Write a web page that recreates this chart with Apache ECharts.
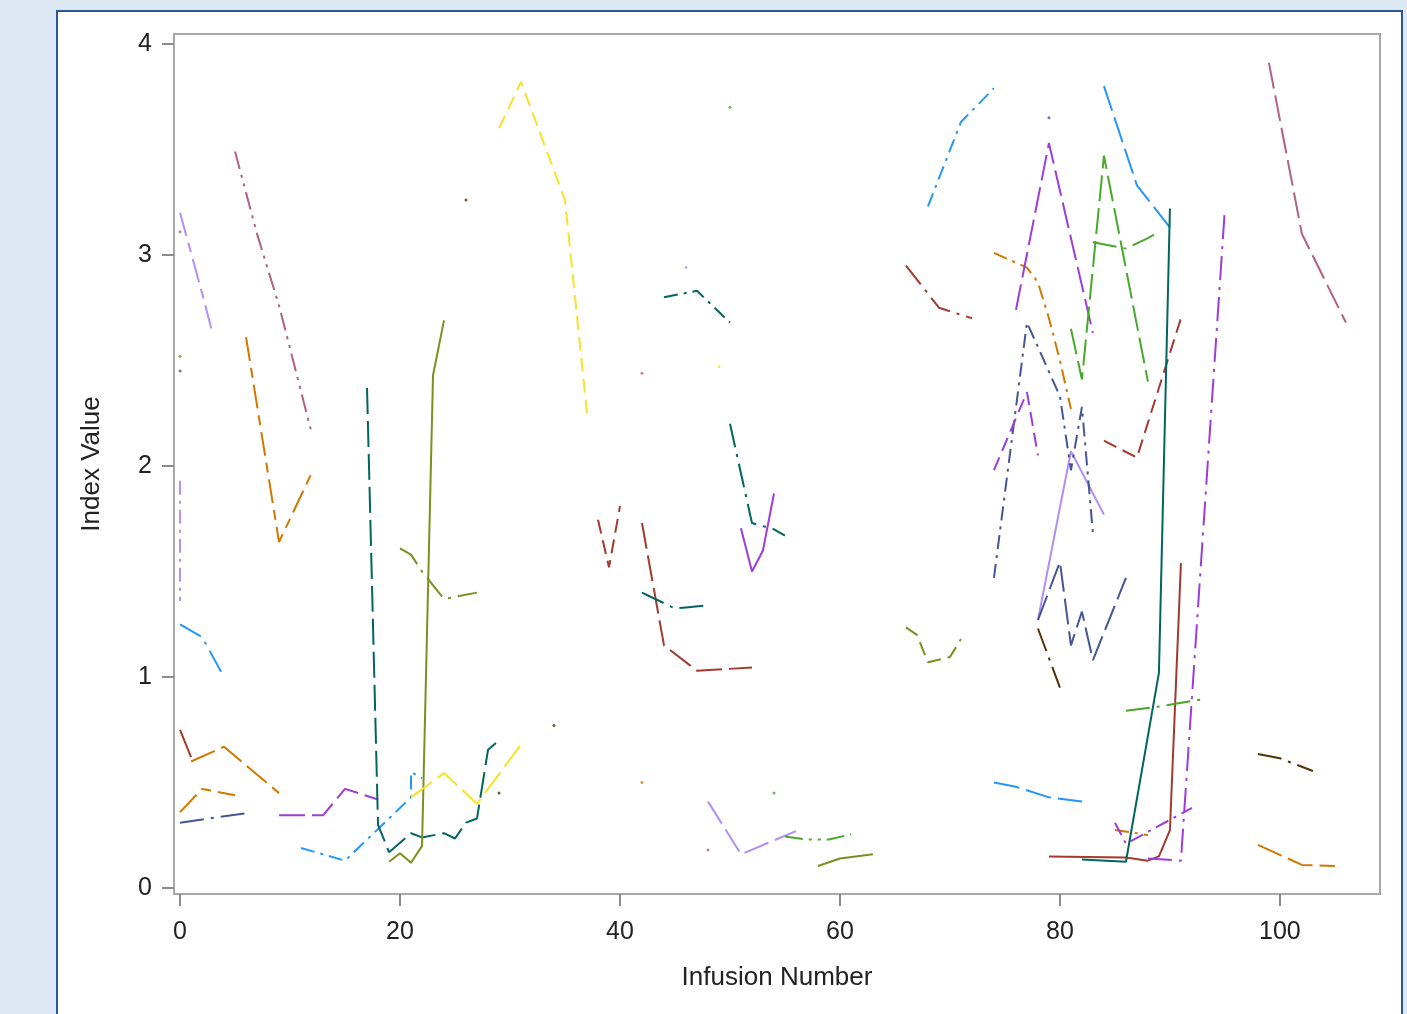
<!DOCTYPE html>
<html>
<head>
<meta charset="utf-8">
<title>Index Value by Infusion Number</title>
<script src="https://cdn.jsdelivr.net/npm/echarts@6/dist/echarts.min.js"></script>
<style>
  html, body { margin: 0; padding: 0; background: #dde7f3; }
  #chart { width: 1407px; height: 1014px; }
</style>
</head>
<body>
<div id="chart"></div>
<script>
// tick labels
const xTicks = [0, 20, 40, 60, 80, 100];
const yTicks = [0, 1, 2, 3, 4];

// subject profiles: [infusion number, index value]
const lav1 = [[0, 3.20], [1, 3.01], [2, 2.82], [3, 2.62]];
const lav2 = [[0, 1.93], [0, 1.36]];
const lav3 = [[48, 0.41], [51, 0.16], [56, 0.27]];
const lav4 = [[78, 1.27], [81, 2.07], [84, 1.77]];
const sky1 = [[0, 1.25], [2, 1.19], [4, 1.00]];
const sky2 = [[11, 0.19], [15, 0.13], [21, 0.43], [21, 0.55], [22, 0.52]];
const sky3 = [[68, 3.23], [71, 3.63], [74, 3.79]];
const sky4 = [[74, 0.50], [76, 0.48], [79, 0.43], [82, 0.41]];
const sky5 = [[84, 3.80], [87, 3.33], [90, 3.13]];
const red1 = [[0, 0.75], [1, 0.62]];
const red2 = [[38, 1.745], [39, 1.52], [40, 1.81]];
const red3 = [[42, 1.73], [44, 1.15], [47, 1.03], [52, 1.045]];
const red4 = [[66, 2.95], [69, 2.75], [72, 2.70]];
const red5 = [[84, 2.12], [87, 2.04], [91, 2.70]];
const red6 = [[79, 0.15], [86, 0.145], [88, 0.13], [89, 0.15], [90, 0.275], [91, 1.54]];
const ora1 = [[1, 0.60], [4, 0.67], [9, 0.45]];
const ora2 = [[0, 0.36], [2, 0.47], [5, 0.44]];
const ora3 = [[6, 2.61], [9, 1.64], [12, 1.97]];
const ora4 = [[74, 3.01], [77, 2.94], [78, 2.87], [79, 2.70], [80, 2.50], [81, 2.27]];
const ora5 = [[85, 0.275], [87, 0.26], [88, 0.25]];
const ora6 = [[98, 0.205], [102, 0.11], [105, 0.105]];
const blu1 = [[0, 0.31], [6, 0.355]];
const blu2 = [[74, 1.47], [77, 2.68], [80, 2.33], [81, 1.98], [82, 2.28], [83, 1.68]];
const blu3 = [[78, 1.27], [80, 1.545], [81, 1.15], [82, 1.31], [83, 1.08], [86, 1.47]];
const pur1 = [[9, 0.345], [13, 0.345], [15, 0.47], [18, 0.42]];
const pur2 = [[51, 1.705], [52, 1.50], [53, 1.60], [54, 1.87]];
const pur3 = [[76, 2.74], [79, 3.53], [83, 2.63]];
const pur4 = [[74, 1.98], [77, 2.35], [78, 2.05]];
const pur5 = [[85, 0.31], [86, 0.21], [92, 0.38]];
const pur6 = [[88, 0.14], [91, 0.13], [95, 3.22]];
const mau1 = [[5, 3.49], [7, 3.10], [9, 2.76], [12, 2.15]];
const mau2 = [[99, 3.91], [102, 3.10], [106, 2.68]];
const tea1 = [[17, 2.37], [18, 0.30], [19, 0.17], [21, 0.26], [22, 0.24], [24, 0.26], [25, 0.235],
              [26, 0.31], [27, 0.33], [28, 0.655], [29, 0.70]];
const tea2 = [[42, 1.40], [45, 1.325], [46, 1.33], [48, 1.34]];
const tea3 = [[44, 2.80], [47, 2.83], [50, 2.68]];
const tea4 = [[50, 2.20], [52, 1.73], [54, 1.70], [55, 1.67]];
const tea5 = [[82, 0.135], [86, 0.125], [89, 1.02], [90, 3.22]];
const oli1 = [[19, 0.125], [20, 0.165], [21, 0.12], [22, 0.20], [23, 2.43], [24, 2.69]];
const oli2 = [[20, 1.61], [21, 1.58], [22, 1.50], [24, 1.37], [27, 1.40]];
const oli3 = [[58, 0.105], [60, 0.14], [63, 0.16]];
const oli4 = [[66, 1.235], [67, 1.20], [68, 1.07], [70, 1.095], [71, 1.18]];
const yel1 = [[21, 0.43], [24, 0.545], [27, 0.40], [31, 0.68]];
const yel2 = [[29, 3.60], [31, 3.82], [35, 3.26], [37, 2.25]];
const gre1 = [[55, 0.245], [57, 0.23], [59, 0.23], [61, 0.255]];
const gre2 = [[81, 2.65], [82, 2.41], [84, 3.47], [88, 2.40]];
const gre3 = [[83, 3.06], [86, 3.03], [88, 3.08], [89, 3.11]];
const gre4 = [[86, 0.84], [89, 0.86], [93, 0.895]];
const bro1 = [[78, 1.23], [80, 0.95]];
const bro2 = [[98, 0.635], [100, 0.615], [103, 0.555]];

// subjects with a single infusion
const dotsMauve = [[0, 3.11], [42, 2.44], [48, 0.18]];
const dotsOlive = [[0, 2.52]];
const dotsBlue = [[0, 2.45], [79, 3.65]];
const dotsBrown = [[26, 3.26], [29, 0.45], [34, 0.77]];
const dotsLav = [[46, 2.94]];
const dotsGreen = [[50, 3.70], [54, 0.45]];
const dotsYellow = [[49, 2.47]];
const dotsOrange = [[42, 0.50]];

// SAS HTMLBlue group colours
const colors = {
  blue: '#445694', red: '#A23A2E', teal: '#01665E', brown: '#543005',
  purple: '#9D3CDB', olive: '#7F8E1F', sky: '#2597FA', mauve: '#B26084',
  orange: '#D17800', green: '#47A82A', lav: '#B38EF3', yellow: '#F9E129'
};

const dashes = {
  solid: 'solid',
  dash: [14, 7],
  longDash: [26, 7],
  dashDot: [14, 6, 3, 6],
  longDashDot: [24, 7, 3, 7],
  longShort: [24, 7, 10, 7],
  dashDotDot: [18, 6, 3, 6, 3, 6]
};

const traces = [
  [lav1, 'lav', 'longShort'], [lav2, 'lav', 'dashDot'], [lav3, 'lav', 'longDash'], [lav4, 'lav', 'solid'],
  [sky1, 'sky', 'longDashDot'], [sky2, 'sky', 'dashDot'], [sky3, 'sky', 'dashDot'],
  [sky4, 'sky', 'longDash'], [sky5, 'sky', 'longDash'],
  [red1, 'red', 'solid'], [red2, 'red', 'dash'], [red3, 'red', 'longDash'], [red4, 'red', 'longDashDot'],
  [red5, 'red', 'dash'], [red6, 'red', 'solid'],
  [ora1, 'orange', 'longDash'], [ora2, 'orange', 'longShort'], [ora3, 'orange', 'longShort'],
  [ora4, 'orange', 'dashDot'], [ora5, 'orange', 'dashDot'], [ora6, 'orange', 'longDash'],
  [blu1, 'blue', 'longDashDot'], [blu2, 'blue', 'dashDot'], [blu3, 'blue', 'longDash'],
  [pur1, 'purple', 'longDash'], [pur2, 'purple', 'solid'], [pur3, 'purple', 'longDash'],
  [pur4, 'purple', 'dash'], [pur5, 'purple', 'dashDot'], [pur6, 'purple', 'longDashDot'],
  [mau1, 'mauve', 'dashDotDot'], [mau2, 'mauve', 'longDash'],
  [tea1, 'teal', 'longDash'], [tea2, 'teal', 'longDashDot'], [tea3, 'teal', 'dashDot'],
  [tea4, 'teal', 'longDashDot'], [tea5, 'teal', 'solid'],
  [oli1, 'olive', 'solid'], [oli2, 'olive', 'longDashDot'], [oli3, 'olive', 'solid'], [oli4, 'olive', 'dash'],
  [yel1, 'yellow', 'longDash'], [yel2, 'yellow', 'dash'],
  [gre1, 'green', 'dashDotDot'], [gre2, 'green', 'longDash'], [gre3, 'green', 'longDashDot'],
  [gre4, 'green', 'longDashDot'],
  [bro1, 'brown', 'longDashDot'], [bro2, 'brown', 'longDashDot']
];

const dots = [
  [dotsMauve, 'mauve'], [dotsOlive, 'olive'], [dotsBlue, 'blue'], [dotsBrown, 'brown'],
  [dotsLav, 'lav'], [dotsGreen, 'green'], [dotsYellow, 'yellow'], [dotsOrange, 'orange']
];

const FONT = '"Liberation Sans", Arial, sans-serif';

const series = traces.map(([data, c, d]) => ({
  type: 'line',
  data: data,
  showSymbol: false,
  lineStyle: { color: colors[c], width: 2, type: dashes[d] },
  emphasis: { disabled: true },
  animation: false
})).concat(dots.map(([data, c]) => ({
  type: 'scatter',
  data: data,
  symbol: 'circle',
  symbolSize: 3,
  itemStyle: { color: colors[c] },
  animation: false
})));

const chart = echarts.init(document.getElementById('chart'), null, { renderer: 'canvas' });

chart.setOption({
  backgroundColor: '#dde7f3',
  graphic: [{
    type: 'rect',
    z: -100,
    silent: true,
    shape: { x: 57, y: 11, width: 1345, height: 1010 },
    style: { fill: '#ffffff', stroke: '#2b5797', lineWidth: 2 }
  }],
  grid: {
    left: 174, top: 34, width: 1206, height: 860,
    show: true, borderColor: '#a8a8a8', borderWidth: 2, backgroundColor: 'transparent'
  },
  xAxis: {
    type: 'value',
    min: -0.55,
    max: 109.1,
    name: 'Infusion Number',
    nameLocation: 'middle',
    nameGap: 71,
    nameTextStyle: { color: '#222', fontSize: 26, fontFamily: FONT },
    axisLine: { show: false, onZero: false },
    axisTick: { show: true, length: 12, customValues: xTicks, lineStyle: { color: '#8c8c8c', width: 2 } },
    axisLabel: { customValues: xTicks, margin: 26, color: '#222', fontSize: 25, fontFamily: FONT },
    splitLine: { show: false }
  },
  yAxis: {
    type: 'value',
    min: -0.028,
    max: 4.047,
    name: 'Index Value',
    nameLocation: 'middle',
    nameGap: 69,
    nameTextStyle: { color: '#222', fontSize: 26, fontFamily: FONT },
    axisLine: { show: false, onZero: false },
    axisTick: { show: true, length: 12, customValues: yTicks, lineStyle: { color: '#8c8c8c', width: 2 } },
    axisLabel: { customValues: yTicks, margin: 22, color: '#222', fontSize: 25, fontFamily: FONT },
    splitLine: { show: false }
  },
  series: series
});

window.addEventListener('resize', () => chart.resize());
</script>
</body>
</html>
